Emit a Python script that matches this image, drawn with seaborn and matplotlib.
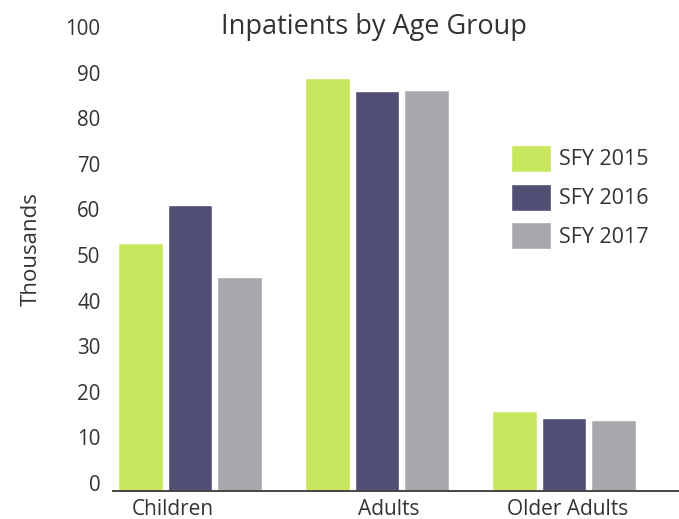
import pandas as pd
import matplotlib.pyplot as plt
import matplotlib.transforms as mtransforms
import seaborn as sns

sns.set_theme(style="white")
plt.rcParams["font.family"] = ["Open Sans", "DejaVu Sans"]

# dados (milhares de pacientes)
grupos = ["Children", "Adults", "Older Adults"]
anos = ["SFY 2015", "SFY 2016", "SFY 2017"]
sfy_2015 = [54.4, 90.6, 17.5]
sfy_2016 = [62.7, 87.7, 16.0]
sfy_2017 = [46.9, 87.9, 15.6]
cores = ["#c8e65e", "#514f75", "#a7a8ac"]

df = pd.DataFrame({
    "grupo": grupos * 3,
    "ano": [anos[0]] * 3 + [anos[1]] * 3 + [anos[2]] * 3,
    "valor": sfy_2015 + sfy_2016 + sfy_2017,
})

fig = plt.figure(figsize=(6.79, 5.19), dpi=100)
ax = fig.add_axes([113 / 679, 1 - 491 / 519, (679 - 113) / 679, (491 - 35) / 519])

sns.barplot(data=df, x="grupo", y="valor", hue="ano", palette=cores,
            width=0.8, gap=0.1, saturation=1, ax=ax)

ax.set_xlim(-0.412, 2.615)
ax.set_ylim(0, 100)
ax.set_yticks(range(0, 101, 10))
ax.set_xlabel("")
ax.set_ylabel("")

for lado in ["left", "top", "right"]:
    ax.spines[lado].set_visible(False)
ax.spines["bottom"].set_color("#444444")
ax.spines["bottom"].set_linewidth(1.4)

ax.tick_params(axis="y", length=0, pad=9, labelsize=14.8, labelcolor="#333333")
ax.tick_params(axis="x", length=0, pad=6, labelsize=15, labelcolor="#333333")

# os rótulos do eixo y ficam um pouco acima das marcas no original
desloc = mtransforms.ScaledTranslation(0, 0.08, fig.dpi_scale_trans)
for lbl in ax.get_yticklabels():
    lbl.set_transform(lbl.get_transform() + desloc)

# rótulos das categorias não ficam exatamente centrados nos grupos
for lbl, dx in zip(ax.get_xticklabels(), [-0.17, 0.12, 0.04]):
    lbl.set_transform(lbl.get_transform()
                      + mtransforms.ScaledTranslation(dx, 0, fig.dpi_scale_trans))

fig.text(374 / 679, 1 - 27 / 519, "Inpatients by Age Group", ha="center",
         va="center", fontsize=19.5, color="#333333")
fig.text(31 / 679, 1 - 249 / 519, "Thousands", rotation=90, ha="center",
         va="center", fontsize=16, color="#333333")

ax.legend(loc="upper left", bbox_to_anchor=(500 / 679, 1 - 134 / 519),
          bbox_transform=fig.transFigure, frameon=False, borderpad=0,
          fontsize=15.5, handlelength=1.86, handleheight=1.55,
          labelspacing=0.55, handletextpad=0.4, labelcolor="#333333")

fig.savefig("out.png", dpi=100)
